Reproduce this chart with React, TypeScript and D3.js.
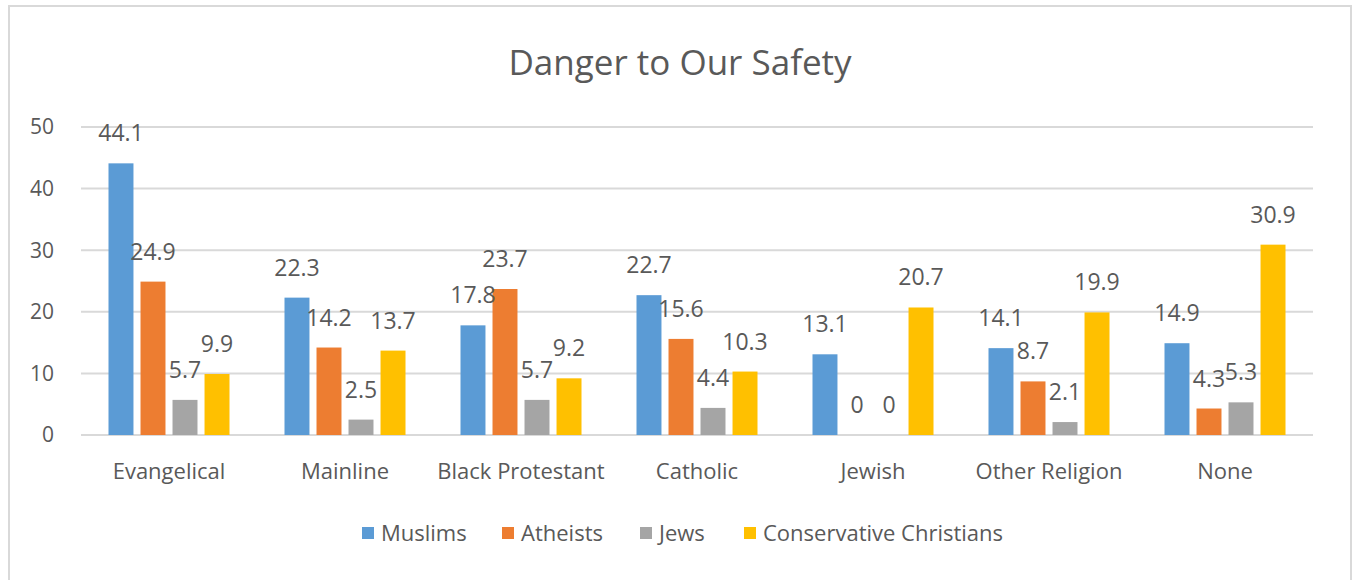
import * as d3 from "d3";
import React, { RefObject, useEffect, useRef } from "react";

const categories = ["Evangelical", "Mainline", "Black Protestant", "Catholic", "Jewish", "Other Religion", "None"];
const seriesNames = ["Muslims", "Atheists", "Jews", "Conservative Christians"];
const muslims = [44.1, 22.3, 17.8, 22.7, 13.1, 14.1, 14.9];
const atheists = [24.9, 14.2, 23.7, 15.6, 0, 8.7, 4.3];
const jews = [5.7, 2.5, 5.7, 4.4, 0, 2.1, 5.3];
const conservativeChristians = [9.9, 13.7, 9.2, 10.3, 20.7, 19.9, 30.9];
const yTicks = [0, 10, 20, 30, 40, 50];
const colors = ["#5B9BD5", "#ED7D31", "#A5A5A5", "#FFC000"];

const W = 1353;
const H = 580;
const FONT = "'Open Sans', 'Liberation Sans', sans-serif";
const TEXT = "#595959";
const GRID = "#D9D9D9";

const App = () => {
  const d3Ref: RefObject<HTMLDivElement> = useRef(null);

  useEffect(() => {
    const root = d3.select(d3Ref.current);
    root.selectAll("*").remove();
    const svg = root.append("svg").attr("width", W).attr("height", H).style("display", "block");

    svg.append("rect").attr("width", W).attr("height", H).attr("fill", "#fff");
    svg.append("rect")
      .attr("x", 9).attr("y", 6).attr("width", 1342).attr("height", 600)
      .attr("fill", "none").attr("stroke", GRID).attr("stroke-width", 2);

    const left = 81, right = 1313, top = 127, bottom = 435;
    const y = d3.scaleLinear().domain([0, 50]).range([bottom, top]);
    const x0 = d3.scaleBand().domain(categories).range([left, right])
      .paddingInner(0.3125).paddingOuter(0.15625);
    const x1 = d3.scaleBand().domain(seriesNames).range([0, x0.bandwidth()]).paddingInner(0.22);

    // title
    svg.append("text")
      .attr("x", 680).attr("y", 75)
      .attr("text-anchor", "middle")
      .attr("font-family", FONT).attr("font-size", 35).attr("fill", TEXT)
      .text("Danger to Our Safety");

    // gridlines
    svg.append("g").selectAll("line").data(yTicks).enter().append("line")
      .attr("x1", left).attr("x2", right)
      .attr("y1", (d) => y(d)).attr("y2", (d) => y(d))
      .attr("stroke", GRID).attr("stroke-width", 2);

    // y tick labels
    svg.append("g").selectAll("text").data(yTicks).enter().append("text")
      .attr("x", 54).attr("y", (d) => y(d))
      .attr("dy", "0.35em").attr("text-anchor", "end")
      .attr("font-family", FONT).attr("font-size", 21).attr("fill", TEXT)
      .text((d) => String(d));

    const series = [muslims, atheists, jews, conservativeChristians];
    const groups = svg.append("g").selectAll("g").data(categories).enter().append("g")
      .attr("transform", (d) => `translate(${x0(d)},0)`);

    groups.selectAll("rect")
      .data((d, i) => seriesNames.map((s, j) => ({ s, v: series[j][i], j })))
      .enter().append("rect")
      .attr("x", (d) => x1(d.s) as number)
      .attr("y", (d) => y(d.v))
      .attr("width", x1.bandwidth())
      .attr("height", (d) => bottom - y(d.v))
      .attr("fill", (d) => colors[d.j]);

    groups.selectAll("text")
      .data((d, i) => seriesNames.map((s, j) => ({ s, v: series[j][i], j })))
      .enter().append("text")
      .attr("x", (d) => (x1(d.s) as number) + x1.bandwidth() / 2)
      .attr("y", (d) => y(d.v) - 22)
      .attr("text-anchor", "middle")
      .attr("font-family", FONT).attr("font-size", 23).attr("fill", TEXT)
      .text((d) => String(d.v));

    // category labels
    svg.append("g").selectAll("text").data(categories).enter().append("text")
      .attr("x", (d) => (x0(d) as number) + x0.bandwidth() / 2)
      .attr("y", 479)
      .attr("text-anchor", "middle")
      .attr("font-family", FONT).attr("font-size", 22).attr("fill", TEXT)
      .text((d) => d);

    // legend
    const legendX = [362, 502, 640, 744];
    const lg = svg.append("g").selectAll("g").data(seriesNames).enter().append("g")
      .attr("transform", (d, i) => `translate(${legendX[i]},527)`);
    lg.append("rect").attr("width", 12).attr("height", 12).attr("fill", (d, i) => colors[i]);
    lg.append("text")
      .attr("x", 19).attr("y", 6).attr("dy", "0.35em")
      .attr("font-family", FONT).attr("font-size", 22).attr("fill", TEXT)
      .text((d) => d);
  }, [d3Ref]);

  return (
    <div ref={d3Ref} style={{ position: "absolute", left: 0, top: 0 }} />
  );
};

export default App;
